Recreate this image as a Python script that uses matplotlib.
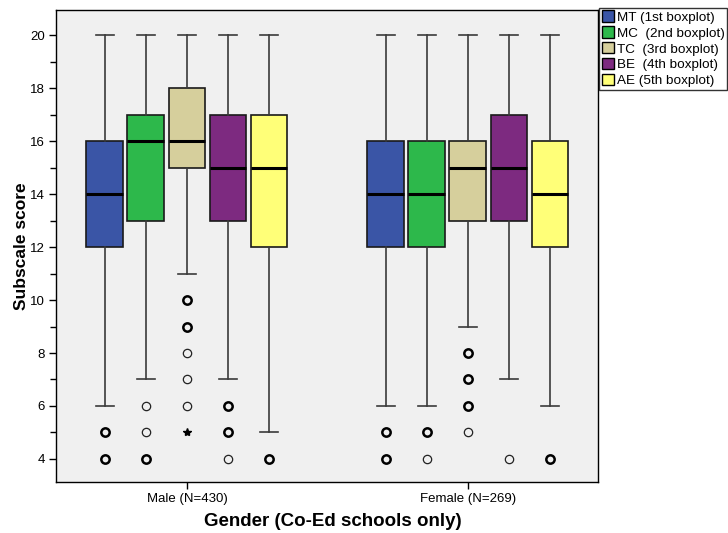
import matplotlib
matplotlib.use("Agg")
import matplotlib.pyplot as plt
from matplotlib.patches import Patch

plt.rcParams["font.family"] = ["Liberation Sans", "DejaVu Sans"]

groups = ["Male (N=430)", "Female (N=269)"]
series = ["MT (1st boxplot)", "MC  (2nd boxplot)", "TC  (3rd boxplot)", "BE  (4th boxplot)", "AE (5th boxplot)"]
colors = ["#3A55A6", "#2DB84B", "#D6CF9C", "#7D2A80", "#FFFF78"]

# per group, per series: (whislo, q1, med, q3, whishi)
male_stats = [(6, 12, 14, 16, 20), (7, 13, 16, 17, 20), (11, 15, 16, 18, 20),
              (7, 13, 15, 17, 20), (5, 12, 15, 17, 20)]
female_stats = [(6, 12, 14, 16, 20), (6, 12, 14, 16, 20), (9, 13, 15, 16, 20),
                (7, 13, 15, 17, 20), (6, 12, 14, 16, 20)]

# outliers: bold (several cases) and thin (single case)
male_out_bold = [[5, 4], [4], [10, 9], [6, 5], [4]]
male_out_thin = [[], [6, 5], [8, 7, 6], [4], []]
male_extreme = [[], [], [5], [], []]
female_out_bold = [[5, 4], [5], [8, 7, 6], [], [4]]
female_out_thin = [[], [4], [5], [4], []]
female_extreme = [[], [], [], [], []]

yticks = [4, 6, 8, 10, 12, 14, 16, 18, 20]

fig = plt.figure(figsize=(7.28, 5.33), dpi=100)
ax = fig.add_axes([0.0769, 0.0957, 0.7445, 0.885])
ax.set_facecolor("#F0F0F0")

spacing = 0.146
width = 0.131
all_stats = [male_stats, female_stats]
all_bold = [male_out_bold, female_out_bold]
all_thin = [male_out_thin, female_out_thin]
all_ext = [male_extreme, female_extreme]
for gi in range(len(groups)):
    for si in range(len(series)):
        lo, q1, med, q3, hi = all_stats[gi][si]
        pos = gi + (si - 2) * spacing
        st = [dict(whislo=lo, q1=q1, med=med, q3=q3, whishi=hi, fliers=[])]
        ax.bxp(st, positions=[pos], widths=width, patch_artist=True,
               showfliers=False,
               boxprops=dict(facecolor=colors[si], edgecolor="#1a1a1a", linewidth=1.2),
               medianprops=dict(color="black", linewidth=2.2),
               whiskerprops=dict(color="#3a3a3a", linewidth=1.2),
               capprops=dict(color="#3a3a3a", linewidth=1.2),
               capwidths=width * 0.5)
        b = all_bold[gi][si]
        if b:
            ax.plot([pos] * len(b), b, "o", ms=6, mfc="none", mec="black", mew=1.8, zorder=5)
        t = all_thin[gi][si]
        if t:
            ax.plot([pos] * len(t), t, "o", ms=6, mfc="none", mec="#222222", mew=0.9, zorder=5)
        e = all_ext[gi][si]
        if e:
            ax.plot([pos] * len(e), e, "*", ms=6, color="black", zorder=5)

ax.set_xlim(-0.466, 1.463)
ax.set_ylim(3.13, 20.94)
ax.set_yticks(yticks)
ax.set_yticks(list(range(5, 20, 2)), minor=True)
ax.set_yticklabels([str(v) for v in yticks], fontsize=9.5)
ax.set_xticks([0, 1])
ax.set_xticklabels(groups, fontsize=9.5)
ax.tick_params(axis="both", which="major", length=5, width=1, pad=3)
ax.tick_params(axis="y", which="minor", length=4, width=1)
for s in ax.spines.values():
    s.set_color("black")
    s.set_linewidth(1.0)

ax.set_ylabel("Subscale score", fontsize=12.5, fontweight="bold")
ax.yaxis.set_label_coords(-0.05, 0.5)
ax.set_xlabel("Gender (Co-Ed schools only)", fontsize=13.5, fontweight="bold")
ax.xaxis.set_label_coords(0.51, -0.066)

handles = [Patch(facecolor=c, edgecolor="black", linewidth=1) for c in colors]
leg = fig.legend(handles, series, loc="upper left", bbox_to_anchor=(0.823, 0.985),
                 fontsize=9.7, frameon=True, fancybox=False, edgecolor="black",
                 handlelength=0.9, handleheight=0.9, handletextpad=0.25,
                 borderpad=0.18, labelspacing=0.2, borderaxespad=0)
leg.get_frame().set_linewidth(1.0)

fig.savefig("out.png", dpi=100, facecolor="white")
